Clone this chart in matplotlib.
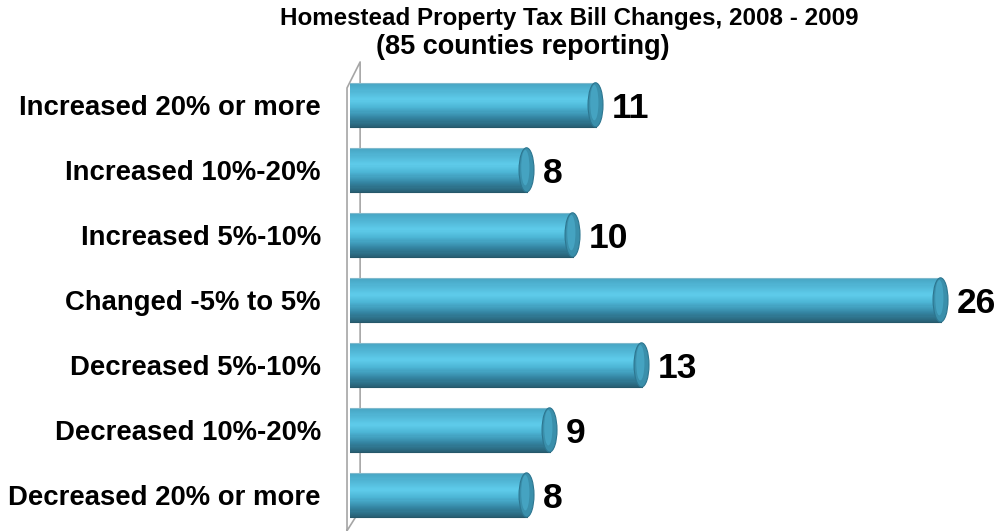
import numpy as np
import matplotlib
matplotlib.use("Agg")
import matplotlib.pyplot as plt
from matplotlib.patches import Ellipse
from matplotlib.colors import LinearSegmentedColormap

# Data
categories = ["Increased 20% or more", "Increased 10%-20%", "Increased 5%-10%",
              "Changed -5% to 5%", "Decreased 5%-10%", "Decreased 10%-20%",
              "Decreased 20% or more"]
counts = [11, 8, 10, 26, 13, 9, 8]

title_line1 = "Homestead Property Tax Bill Changes, 2008 - 2009"
title_line2 = "(85 counties reporting)"

plt.rcParams['font.family'] = ['Liberation Sans', 'DejaVu Sans']

fig = plt.figure(figsize=(10, 5.31), dpi=100)
# 0 at x=350px, 23px per unit; bars 65px apart
px_unit = 23.0
ax = fig.add_axes([0.35, 0.0, 0.65, (531 - 60) / 531])
ax.set_xlim(0, 650 / px_unit)
ax.set_ylim(-0.554, 6.69)

ypos = np.arange(len(categories))[::-1]
bar_h = 0.68
cap_w = 0.65

# cylinder shading, bottom (0) to top (1)
shade = LinearSegmentedColormap.from_list(
    "cyl", [(0.0, "#285f73"), (0.2, "#3383a0"), (0.45, "#4db6d6"),
            (0.62, "#5ecbea"), (0.85, "#4fb3d2"), (1.0, "#46a4c2")])
n_strips = 40

for y, v in zip(ypos, counts):
    body = v - cap_w / 2
    for k in range(n_strips):
        frac = (k + 0.5) / n_strips
        y0 = y - bar_h / 2 + k * bar_h / n_strips
        ax.barh(y0, body, height=bar_h / n_strips * 1.05, align='edge',
                color=shade(frac), linewidth=0, zorder=3)
    # outline of body
    ax.plot([0, body], [y + bar_h / 2, y + bar_h / 2], color="#7fb9cc", lw=0.8, zorder=4)
    ax.plot([0, body], [y - bar_h / 2, y - bar_h / 2], color="#25586a", lw=0.8, zorder=4)
    # end cap
    ax.add_patch(Ellipse((body, y), cap_w, bar_h, facecolor="#3a8fab",
                         edgecolor="#2d7690", lw=0.8, zorder=5))
    ax.add_patch(Ellipse((body - cap_w * 0.08, y + bar_h * 0.05), cap_w * 0.55, bar_h * 0.8,
                         facecolor="#45a3c1", edgecolor="none", zorder=5))
    ax.text(v + 0.38, y, str(v), va='center_baseline', ha='left', fontsize=25.5,
            fontweight='bold', color='black', zorder=6)

# thin 3D wall on the left
wall_x = [-0.13, -0.13, 0.44, 0.44, -0.13]
wall_y = [-0.55, 6.26, 6.66, -0.23, -0.55]
ax.plot(wall_x, wall_y, color="#a6a6a6", lw=1.2, zorder=1, clip_on=False)

ax.set_yticks(ypos)
ax.set_yticklabels(categories, fontsize=19.8, fontweight='bold')
ax.tick_params(axis='y', length=0, pad=21)
ax.set_xticks([])
for s in ax.spines.values():
    s.set_visible(False)

fig.text(0.569, 1 - 19 / 531, title_line1, ha='center', va='center',
         fontsize=17.4, fontweight='bold')
fig.text(0.5225, 1 - 47 / 531, title_line2, ha='center', va='center',
         fontsize=19.5, fontweight='bold')

fig.savefig("out.png", dpi=100)
